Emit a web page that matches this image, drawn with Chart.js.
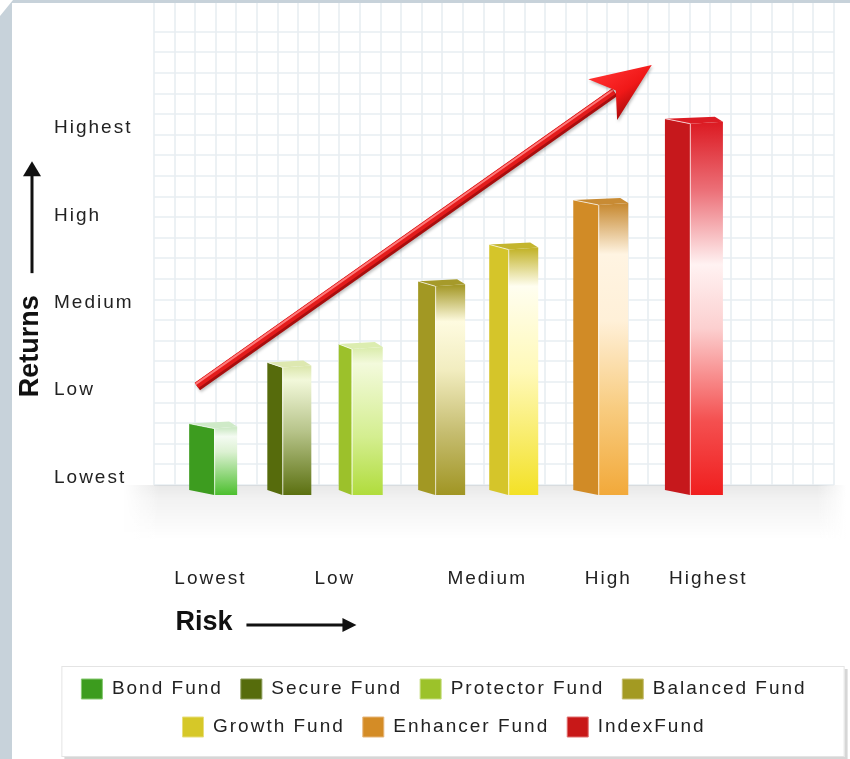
<!DOCTYPE html>
<html>
<head>
<meta charset="utf-8">
<script src="https://cdn.jsdelivr.net/npm/chart.js@4.4.1/dist/chart.umd.min.js"></script>
<style>
  html, body { margin: 0; padding: 0; background: #fff; }
  canvas { display: block; }
</style>
</head>
<body>
<canvas id="riskChart" width="850" height="759"></canvas>
<script>
// data (risk on a 0-10 axis, returns Lowest=1 .. Highest=5)
const funds = ["Bond Fund", "Secure Fund", "Protector Fund", "Balanced Fund", "Growth Fund", "Enhancer Fund", "IndexFund"];
const fundRisk = [0.87, 1.99, 3.04, 4.23, 5.29, 6.57, 7.94];
const fundReturn = [1.56, 2.26, 2.47, 3.19, 3.61, 4.12, 5.05];
const returnTicks = [1, 2, 3, 4, 5];
const returnLabels = ["Lowest", "Low", "Medium", "High", "Highest"];
const riskTicks = [0.83, 2.66, 4.9, 6.68, 8.15];
const riskLabels = ["Lowest", "Low", "Medium", "High", "Highest"];
const trendFrom = [0.63, 2.05];
const trendTo = [7.32, 5.72];
const RETURN_MIN = 0.8;
const RETURN_MAX = 6.3;

// look of the bars
const legendColors = ["#3c9c1e", "#566c0c", "#9cc22a", "#a39a22", "#d6c828", "#d48c26", "#c81818"];
const legendBorders = ["#86c870", "#8a9a58", "#c4dc7c", "#c6bf74", "#e8de7c", "#e6b67a", "#e07070"];
const sideColors = ["#3d9c1f", "#566b0c", "#9cc12b", "#a29823", "#d5c52a", "#d18b26", "#c6181c"];
const frontStops = [
  [[0, "#cfeac8"], [0.12, "#f4fbf2"], [0.35, "#dcf1d2"], [1, "#4cbf2e"]],
  [[0, "#dde8b0"], [0.1, "#f2f8da"], [0.5, "#b7c48a"], [1, "#5b7010"]],
  [[0, "#dcedb0"], [0.1, "#f3fadc"], [0.6, "#d4ee90"], [1, "#b0dc3c"]],
  [[0, "#a69a2a"], [0.17, "#fefbe0"], [0.4, "#f2edc0"], [0.7, "#c6bd70"], [1, "#a09523"]],
  [[0, "#c4b52e"], [0.15, "#fffef0"], [0.5, "#fff9b8"], [1, "#f3e126"]],
  [[0, "#c88b34"], [0.17, "#fff4e2"], [0.4, "#fff0d8"], [0.7, "#f8cc80"], [1, "#f2a93a"]],
  [[0, "#dc1c24"], [0.18, "#ec7078"], [0.38, "#fff2f2"], [0.55, "#fcd0d0"], [0.8, "#f45050"], [1, "#f01e1e"]]
];
const barWidths = [48, 44, 44, 47, 49, 55, 58];
const sideWidths = [25, 15, 13, 17, 19, 25, 25];

const LABEL_FONT = { family: "Liberation Sans", size: 19 };
const SPACING = "2px";
const BOTTOM_PAD = 12;

const decor = {
  id: "decor",
  beforeUpdate(c) { c.ctx.letterSpacing = SPACING; },
  beforeLayout(c) { c.ctx.letterSpacing = SPACING; },
  beforeDraw(c) {
    const ctx = c.ctx;
    ctx.letterSpacing = SPACING;
    ctx.save();
    // bevelled card edge
    ctx.fillStyle = "#c7d2da";
    ctx.beginPath();
    ctx.moveTo(0, 16); ctx.lineTo(13, 0); ctx.lineTo(c.width, 0); ctx.lineTo(c.width, 3);
    ctx.lineTo(12, 3); ctx.lineTo(12, c.height); ctx.lineTo(0, c.height);
    ctx.closePath(); ctx.fill();

    // frame round the legend
    const hb = c.legend.legendHitBoxes;
    const l = Math.min(...hb.map(h => h.left)) - 20;
    const r = Math.max(...hb.map(h => h.left + h.width)) + 38;
    const t = Math.min(...hb.map(h => h.top)) - 13;
    const b = Math.max(...hb.map(h => h.top + h.height)) + 20;
    ctx.fillStyle = "#d6d6d6";
    ctx.fillRect(l + 3, t + 3, r - l, b - t);
    ctx.fillStyle = "#fff";
    ctx.fillRect(l, t, r - l, b - t);
    ctx.strokeStyle = "#e4e4e4";
    ctx.lineWidth = 1;
    ctx.strokeRect(l + 0.5, t + 0.5, r - l - 1, b - t - 1);
    ctx.restore();
  },
  beforeDatasetsDraw(c) {
    const ctx = c.ctx;
    const a = c.chartArea;
    const step = 20.6;
    const gBottom = a.bottom - 10;
    ctx.save();

    // background grid
    ctx.strokeStyle = "#e8eef2";
    ctx.lineWidth = 1.6;
    ctx.beginPath();
    for (let k = 0; a.left + k * step <= a.right + 1; k++) {
      const x = Math.round(a.left + k * step);
      ctx.moveTo(x, 3); ctx.lineTo(x, gBottom);
    }
    for (let k = 0; gBottom - k * step >= 28; k++) {
      const y = Math.round(gBottom - k * step);
      ctx.moveTo(a.left, y); ctx.lineTo(a.right, y);
    }
    ctx.stroke();

    // floor shadow, fading downwards and at both ends
    const fx = a.left - 30, fw = a.right - a.left + 42;
    const fg = ctx.createLinearGradient(0, gBottom, 0, gBottom + 55);
    fg.addColorStop(0, "rgba(0,0,0,0.09)");
    fg.addColorStop(0.25, "rgba(0,0,0,0.05)");
    fg.addColorStop(1, "rgba(0,0,0,0)");
    ctx.fillStyle = fg;
    ctx.fillRect(fx, gBottom, fw, 55);
    const fade = ctx.createLinearGradient(fx, 0, fx + fw, 0);
    fade.addColorStop(0, "rgba(255,255,255,1)");
    fade.addColorStop(0.05, "rgba(255,255,255,0)");
    fade.addColorStop(0.96, "rgba(255,255,255,0)");
    fade.addColorStop(1, "rgba(255,255,255,1)");
    ctx.fillStyle = fade;
    ctx.fillRect(fx, gBottom, fw, 55);

    // 3d bars
    c.data.datasets.forEach((ds, i) => {
      const el = c.getDatasetMeta(i).data[0];
      const { x, y, base, width } = el.getProps(["x", "y", "base", "width"], true);
      const L = x - width / 2, R = x + width / 2, J = L + sideWidths[i];
      const s = 5;
      ctx.fillStyle = sideColors[i];
      ctx.beginPath();
      ctx.moveTo(L, y - s); ctx.lineTo(J, y); ctx.lineTo(J, base); ctx.lineTo(L, base - s);
      ctx.closePath(); ctx.fill();

      const g = ctx.createLinearGradient(0, y, 0, base);
      frontStops[i].forEach(([o, col]) => g.addColorStop(o, col));
      ctx.fillStyle = g;
      ctx.beginPath();
      ctx.moveTo(J, y); ctx.lineTo(R, y - 2); ctx.lineTo(R, base); ctx.lineTo(J, base);
      ctx.closePath(); ctx.fill();

      ctx.fillStyle = frontStops[i][0][1];
      ctx.beginPath();
      ctx.moveTo(L, y - s); ctx.lineTo(R - 8, y - s - 2); ctx.lineTo(R, y - 2); ctx.lineTo(J, y);
      ctx.closePath(); ctx.fill();

      ctx.strokeStyle = "rgba(255,255,255,0.7)";
      ctx.lineWidth = 1;
      ctx.beginPath();
      ctx.moveTo(J + 0.5, y); ctx.lineTo(J + 0.5, base);
      ctx.moveTo(L, y - s); ctx.lineTo(J, y);
      ctx.stroke();
    });

    // red trend arrow
    const xs = c.scales.x, ys = c.scales.y;
    const x0 = xs.getPixelForValue(trendFrom[0]), y0 = ys.getPixelForValue(trendFrom[1]);
    const x1 = xs.getPixelForValue(trendTo[0]), y1 = ys.getPixelForValue(trendTo[1]);
    const len = Math.hypot(x1 - x0, y1 - y0);
    const dx = (x1 - x0) / len, dy = (y1 - y0) / len;
    const nx = -dy, ny = dx;
    const ex = x1 - 46 * dx, ey = y1 - 46 * dy;
    ctx.shadowColor = "rgba(0,0,0,0.25)";
    ctx.shadowBlur = 3; ctx.shadowOffsetX = 1; ctx.shadowOffsetY = 2;
    ctx.lineCap = "butt";
    const seg = (off, w, col) => {
      ctx.strokeStyle = col; ctx.lineWidth = w;
      ctx.beginPath();
      ctx.moveTo(x0 + nx * off, y0 + ny * off); ctx.lineTo(ex + nx * off, ey + ny * off);
      ctx.stroke();
    };
    seg(1, 9, "#a80e0e");
    ctx.shadowColor = "transparent";
    seg(-0.5, 6.5, "#e31b1b");
    seg(-2, 2, "#ff7a7a");
    ctx.shadowColor = "rgba(0,0,0,0.25)";
    const hg = ctx.createLinearGradient(x1 - 58 * dx - 24 * nx, y1 - 58 * dy - 24 * ny, x1 - 58 * dx + 24 * nx, y1 - 58 * dy + 24 * ny);
    hg.addColorStop(0, "#ff3030");
    hg.addColorStop(0.6, "#f01818");
    hg.addColorStop(1, "#b00c0c");
    ctx.fillStyle = hg;
    ctx.beginPath();
    ctx.moveTo(x1, y1);
    ctx.lineTo(x1 - 60 * dx + 25 * nx, y1 - 60 * dy + 25 * ny);
    ctx.lineTo(x1 - 44 * dx, y1 - 44 * dy);
    ctx.lineTo(x1 - 60 * dx - 25 * nx, y1 - 60 * dy - 25 * ny);
    ctx.closePath();
    ctx.fill();
    ctx.restore();
  },
  beforeDatasetDraw() { return false; },
  afterDraw(c) {
    const ctx = c.ctx;
    const xs = c.scales.x, ys = c.scales.y;
    ctx.save();
    ctx.letterSpacing = "0px";
    ctx.fillStyle = "#111";
    ctx.strokeStyle = "#111";
    ctx.font = 'bold 27px "Liberation Sans"';

    // Risk title and arrow
    const rx = xs.getPixelForValue(riskTicks[0]) - 35;
    const ry = 623;
    ctx.textAlign = "left"; ctx.textBaseline = "middle";
    ctx.fillText("Risk", rx, ry);
    ctx.lineWidth = 3;
    ctx.beginPath(); ctx.moveTo(rx + 71, ry + 2); ctx.lineTo(rx + 170, ry + 2); ctx.stroke();
    ctx.beginPath();
    ctx.moveTo(rx + 181, ry + 2); ctx.lineTo(rx + 167, ry - 5); ctx.lineTo(rx + 167, ry + 9);
    ctx.closePath(); ctx.fill();

    // Returns title and arrow
    const tx = ys.left - 23;
    const ty = ys.getPixelForValue(2) + 7;
    ctx.save();
    ctx.translate(tx, ty);
    ctx.rotate(-Math.PI / 2);
    ctx.fillText("Returns", 0, 0);
    ctx.restore();
    ctx.beginPath(); ctx.moveTo(tx + 1, ty - 124); ctx.lineTo(tx + 1, ty - 222); ctx.stroke();
    ctx.beginPath();
    ctx.moveTo(tx + 1, ty - 236); ctx.lineTo(tx - 8, ty - 221); ctx.lineTo(tx + 10, ty - 221);
    ctx.closePath(); ctx.fill();
    ctx.restore();
  }
};

new Chart(document.getElementById("riskChart"), {
  type: "bar",
  data: {
    datasets: funds.map((name, i) => ({
      label: name,
      data: [{ x: fundRisk[i], y: fundReturn[i] }],
      base: RETURN_MIN,
      backgroundColor: legendColors[i],
      borderColor: legendBorders[i],
      borderWidth: 1,
      barThickness: barWidths[i],
      grouped: false
    }))
  },
  options: {
    responsive: false,
    animation: false,
    events: [],
    layout: { padding: { left: 54, right: 16, top: 10, bottom: BOTTOM_PAD } },
    scales: {
      x: {
        type: "linear",
        min: 0,
        max: 10,
        offset: false,
        grid: { display: false, drawTicks: false },
        border: { display: false },
        afterBuildTicks: s => { s.ticks = riskTicks.map(v => ({ value: v })); },
        afterFit: s => { s.height = s.chart.height - 495 - s.chart.legend.height - BOTTOM_PAD; },
        ticks: {
          autoSkip: false,
          maxRotation: 0,
          padding: 72,
          color: "#222",
          font: LABEL_FONT,
          callback: (v, i) => riskLabels[i]
        }
      },
      y: {
        type: "linear",
        min: RETURN_MIN,
        max: RETURN_MAX,
        grid: { display: false, drawTicks: false },
        border: { display: false },
        afterBuildTicks: s => { s.ticks = returnTicks.map(v => ({ value: v })); },
        afterFit: s => { s.width = 100; },
        ticks: {
          crossAlign: "far",
          color: "#222",
          font: LABEL_FONT,
          callback: (v, i) => returnLabels[i]
        }
      }
    },
    plugins: {
      legend: {
        position: "bottom",
        labels: { boxWidth: 21, boxHeight: 20, padding: 18, color: "#222", font: LABEL_FONT }
      },
      tooltip: { enabled: false }
    }
  },
  plugins: [decor]
});
</script>
</body>
</html>
